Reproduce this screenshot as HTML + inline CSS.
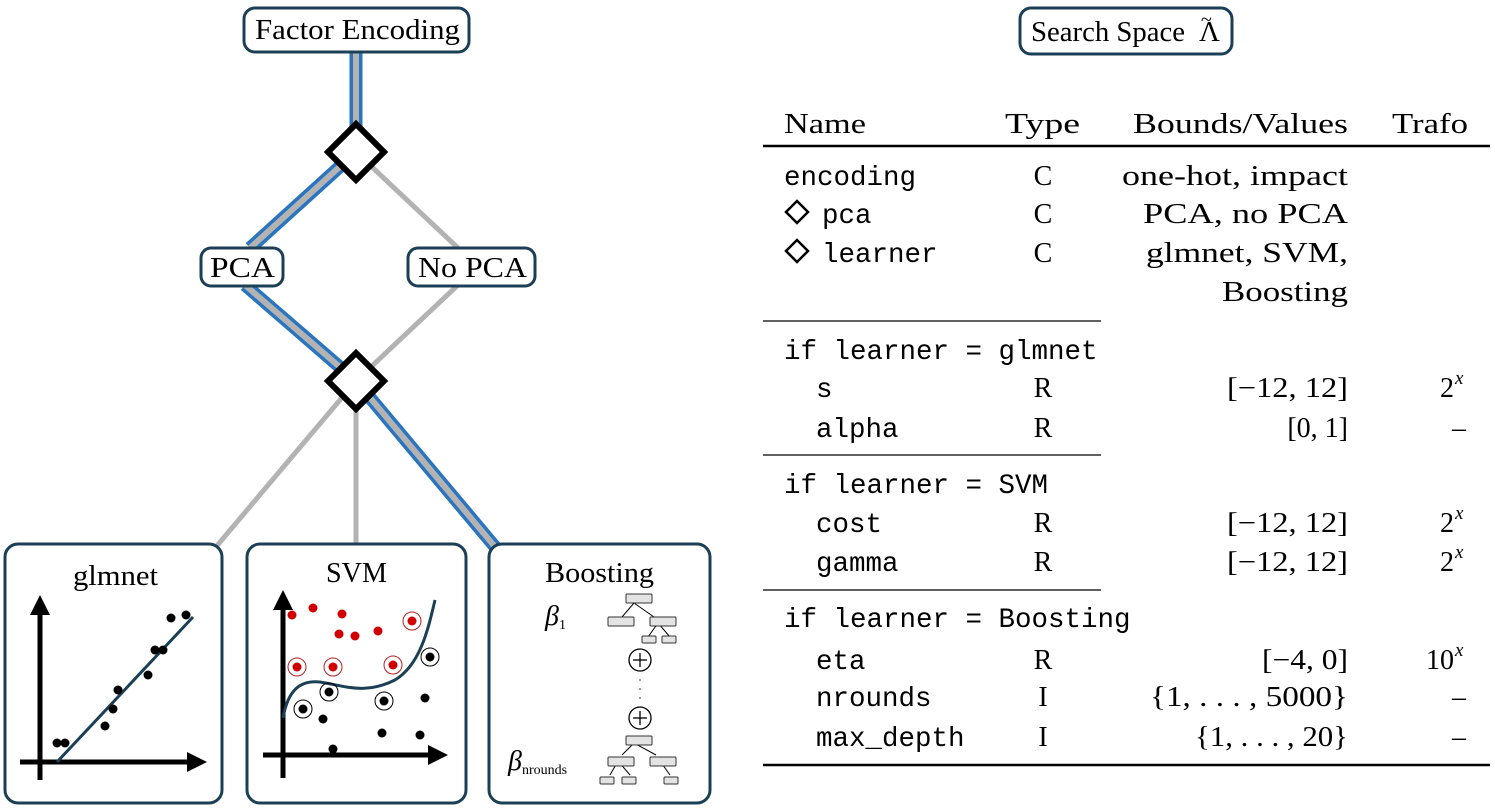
<!DOCTYPE html>
<html><head><meta charset="utf-8"><style>
html,body{margin:0;padding:0;background:#fff;}
svg{display:block}
.s{font-family:"Liberation Serif",serif;font-size:28px;fill:#000}
.m{font-family:"Liberation Mono",monospace;font-size:27.5px;fill:#000}
</style></head><body>
<svg width="1495" height="809" viewBox="0 0 1495 809" xmlns="http://www.w3.org/2000/svg">
<g stroke="#b3b3b3" stroke-width="5" fill="none">
<line x1="356" y1="152" x2="458" y2="248"/>
<line x1="458" y1="285" x2="356" y2="381"/>
<line x1="356" y1="381" x2="215" y2="548"/>
<line x1="356" y1="381" x2="356" y2="548"/>
</g>
<g fill="none" stroke-linejoin="round">
<polyline points="356,52 356,152 250,248" stroke="#2a74c0" stroke-width="13"/>
<polyline points="245,285 356,381 496,548" stroke="#2a74c0" stroke-width="13"/>
<polyline points="356,52 356,152 250,248" stroke="#b3b3b3" stroke-width="6"/>
<polyline points="245,285 356,381 496,548" stroke="#b3b3b3" stroke-width="6"/>
</g>
<polygon points="356,124 384,152 356,180 328,152" fill="#fff" stroke="#000" stroke-width="6"/>
<polygon points="356,353 384,381 356,409 328,381" fill="#fff" stroke="#000" stroke-width="6"/>
<g fill="#fff" stroke="#1b3f55" stroke-width="3">
<rect x="244" y="8" width="225" height="44" rx="11"/>
<rect x="201" y="248" width="82" height="38" rx="10"/>
<rect x="408" y="248" width="127" height="38" rx="10"/>
<rect x="1020" y="8" width="212" height="46" rx="11"/>
<rect x="5" y="544" width="217" height="259" rx="13"/>
<rect x="247" y="544" width="219" height="259" rx="13"/>
<rect x="489" y="544" width="221" height="259" rx="13"/>
</g>
<g class="s">
<text x="255" y="39" textLength="205" lengthAdjust="spacingAndGlyphs">Factor Encoding</text>
<text x="210" y="277" textLength="65" lengthAdjust="spacingAndGlyphs">PCA</text>
<text x="418" y="277" textLength="109" lengthAdjust="spacingAndGlyphs">No PCA</text>
<text x="1031" y="41" textLength="154" lengthAdjust="spacingAndGlyphs">Search Space</text>
<text x="1199" y="41" textLength="21" lengthAdjust="spacingAndGlyphs">Λ</text>
<text x="1201" y="26" font-size="20">~</text>
<text x="73" y="585" textLength="85" lengthAdjust="spacingAndGlyphs">glmnet</text>
<text x="326" y="582" textLength="61" lengthAdjust="spacingAndGlyphs">SVM</text>
<text x="545" y="582" textLength="109" lengthAdjust="spacingAndGlyphs">Boosting</text>
</g>

<g stroke="#000" stroke-width="5">
<line x1="40" y1="780" x2="40" y2="612"/>
<line x1="20" y1="762" x2="190" y2="762"/>
</g>
<polygon points="40,595 30,615 50,615" fill="#000"/>
<polygon points="207,762 187,752 187,772" fill="#000"/>
<line x1="57" y1="762" x2="193" y2="617" stroke="#1b3f55" stroke-width="3"/>
<g fill="#000">
<circle cx="57" cy="743" r="4.5"/><circle cx="65" cy="743" r="4.5"/><circle cx="105" cy="726" r="4.5"/>
<circle cx="113" cy="709" r="4.5"/><circle cx="118" cy="690" r="4.5"/><circle cx="148" cy="675" r="4.5"/>
<circle cx="155" cy="650" r="4.5"/><circle cx="163" cy="650" r="4.5"/><circle cx="171" cy="618" r="4.5"/><circle cx="186" cy="615" r="4.5"/>
</g>

<g stroke="#000" stroke-width="5">
<line x1="283" y1="778" x2="283" y2="608"/>
<line x1="263" y1="755" x2="430" y2="755"/>
</g>
<polygon points="283,590 273,610 293,610" fill="#000"/>
<polygon points="448,755 428,745 428,765" fill="#000"/>
<path d="M283,718 C288,690 300,680 320,682 C345,686 365,695 395,680 C420,665 428,630 435,600" fill="none" stroke="#1b3f55" stroke-width="3"/>
<g fill="#d00000">
<circle cx="292" cy="615" r="4.5"/><circle cx="313" cy="608" r="4.5"/><circle cx="342" cy="614" r="4.5"/>
<circle cx="339" cy="634" r="4.5"/><circle cx="355" cy="636" r="4.5"/><circle cx="378" cy="631" r="4.5"/>
<circle cx="297" cy="667" r="4.5"/><circle cx="333" cy="667" r="4.5"/><circle cx="393" cy="665" r="4.5"/><circle cx="412" cy="621" r="4.5"/>
</g>
<g fill="none" stroke="#b02020" stroke-width="1">
<circle cx="297" cy="667" r="9"/><circle cx="333" cy="667" r="9"/><circle cx="393" cy="665" r="9"/><circle cx="412" cy="621" r="9"/>
</g>
<g fill="#000">
<circle cx="303" cy="709" r="4.5"/><circle cx="329" cy="692" r="4.5"/><circle cx="384" cy="701" r="4.5"/><circle cx="430" cy="657" r="4.5"/>
<circle cx="323" cy="719" r="4.5"/><circle cx="425" cy="698" r="4.5"/><circle cx="382" cy="733" r="4.5"/>
<circle cx="420" cy="735" r="4.5"/><circle cx="333" cy="749" r="4.5"/>
</g>
<g fill="none" stroke="#000" stroke-width="1">
<circle cx="303" cy="709" r="9"/><circle cx="329" cy="692" r="9"/><circle cx="384" cy="701" r="9"/><circle cx="430" cy="657" r="9"/>
</g>

<text class="s" x="545" y="625" font-style="italic" font-size="20">β<tspan font-style="normal" font-size="14" dy="4">1</tspan></text>
<text class="s" x="508" y="770" font-style="italic" font-size="20">β<tspan font-style="normal" font-size="14" dy="4">nrounds</tspan></text>
<g stroke="#000" stroke-width="1">
<line x1="634" y1="603" x2="622" y2="617"/><line x1="634" y1="603" x2="654" y2="617"/>
<line x1="658" y1="623" x2="648" y2="637"/><line x1="658" y1="623" x2="670" y2="637"/>
<line x1="634" y1="743" x2="622" y2="755"/><line x1="634" y1="743" x2="656" y2="755"/>
<line x1="618" y1="761" x2="610" y2="775"/><line x1="618" y1="761" x2="630" y2="775"/><line x1="660" y1="761" x2="670" y2="775"/>
</g>
<g fill="#e3e3e3" stroke="#333" stroke-width="1">
<rect x="626" y="594" width="26" height="9" rx="1"/>
<rect x="608" y="617" width="26" height="9" rx="1"/><rect x="650" y="617" width="26" height="9" rx="1"/>
<rect x="642" y="636" width="14" height="7" rx="1"/><rect x="662" y="636" width="14" height="7" rx="1"/>
<rect x="626" y="736" width="26" height="9" rx="1"/>
<rect x="608" y="757" width="26" height="9" rx="1"/><rect x="650" y="757" width="26" height="9" rx="1"/>
<rect x="600" y="777" width="14" height="7" rx="1"/><rect x="622" y="777" width="14" height="7" rx="1"/><rect x="664" y="777" width="14" height="7" rx="1"/>
</g>
<g fill="#fff" stroke="#000" stroke-width="1.3">
<circle cx="640" cy="660" r="11"/><circle cx="640" cy="718" r="11"/>
</g>
<g stroke="#000" stroke-width="1.3">
<line x1="633" y1="660" x2="647" y2="660"/><line x1="640" y1="653" x2="640" y2="667"/>
<line x1="633" y1="718" x2="647" y2="718"/><line x1="640" y1="711" x2="640" y2="725"/>
</g>
<g fill="#555"><circle cx="640" cy="680" r="0.9"/><circle cx="640" cy="689" r="0.9"/><circle cx="640" cy="698" r="0.9"/></g>

<g class="s">
<text x="784" y="133" textLength="82" lengthAdjust="spacingAndGlyphs">Name</text>
<text x="1005" y="133" textLength="75" lengthAdjust="spacingAndGlyphs">Type</text>
<text x="1133" y="133" textLength="215" lengthAdjust="spacingAndGlyphs">Bounds/Values</text>
<text x="1392" y="133" textLength="76" lengthAdjust="spacingAndGlyphs">Trafo</text>
</g>
<line x1="763" y1="146" x2="1490" y2="146" stroke="#000" stroke-width="2.5"/>
<line x1="763" y1="321" x2="1101" y2="321" stroke="#000" stroke-width="1.3"/>
<line x1="763" y1="455" x2="1101" y2="455" stroke="#000" stroke-width="1.3"/>
<line x1="763" y1="590" x2="1101" y2="590" stroke="#000" stroke-width="1.3"/>
<line x1="763" y1="765" x2="1490" y2="765" stroke="#000" stroke-width="2.5"/>
<g fill="none" stroke="#000" stroke-width="2.5">
<polygon points="797,201 808,212 797,223 786,212"/>
<polygon points="797,240 808,251 797,262 786,251"/>
</g>
<g class="m">
<text x="784" y="185">encoding</text>
<text x="822" y="223">pca</text>
<text x="822" y="262">learner</text>
<text x="784" y="359" xml:space="preserve">if learner = glmnet</text>
<text x="816" y="397">s</text>
<text x="816" y="437">alpha</text>
<text x="784" y="493" xml:space="preserve">if learner = SVM</text>
<text x="816" y="532">cost</text>
<text x="816" y="571">gamma</text>
<text x="784" y="627" xml:space="preserve">if learner = Boosting</text>
<text x="816" y="669">eta</text>
<text x="816" y="706">nrounds</text>
<text x="816" y="746">max_depth</text>
</g>
<g class="s" text-anchor="middle">
<text x="1043" y="185">C</text><text x="1043" y="223">C</text><text x="1043" y="262">C</text>
<text x="1043" y="397">R</text><text x="1043" y="437">R</text>
<text x="1043" y="532">R</text><text x="1043" y="571">R</text>
<text x="1043" y="669">R</text><text x="1043" y="706">I</text><text x="1043" y="746">I</text>
</g>
<g class="s">
<text x="1122" y="185" textLength="226" lengthAdjust="spacingAndGlyphs">one-hot, impact</text>
<text x="1143" y="223" textLength="205" lengthAdjust="spacingAndGlyphs">PCA, no PCA</text>
<text x="1146" y="262" textLength="202" lengthAdjust="spacingAndGlyphs">glmnet, SVM,</text>
<text x="1222" y="301" textLength="126" lengthAdjust="spacingAndGlyphs">Boosting</text>
<text x="1227" y="397" textLength="121" lengthAdjust="spacingAndGlyphs">[−12, 12]</text>
<text x="1348" y="437" text-anchor="end">[0, 1]</text>
<text x="1227" y="532" textLength="121" lengthAdjust="spacingAndGlyphs">[−12, 12]</text>
<text x="1227" y="571" textLength="121" lengthAdjust="spacingAndGlyphs">[−12, 12]</text>
<text x="1262" y="669" textLength="86" lengthAdjust="spacingAndGlyphs">[−4, 0]</text>
<text x="1150" y="706" textLength="198" lengthAdjust="spacingAndGlyphs">{1, . . . , 5000}</text>
<text x="1195" y="746" textLength="153" lengthAdjust="spacingAndGlyphs">{1, . . . , 20}</text>
</g>
<g class="s">
<text x="1440" y="397">2</text><text x="1455" y="384" font-size="19" font-style="italic">x</text>
<text x="1452" y="437">–</text>
<text x="1440" y="532">2</text><text x="1455" y="519" font-size="19" font-style="italic">x</text>
<text x="1440" y="571">2</text><text x="1455" y="558" font-size="19" font-style="italic">x</text>
<text x="1426" y="669">10</text><text x="1455" y="656" font-size="19" font-style="italic">x</text>
<text x="1452" y="706">–</text>
<text x="1452" y="746">–</text>
</g>
</svg>
</body></html>
